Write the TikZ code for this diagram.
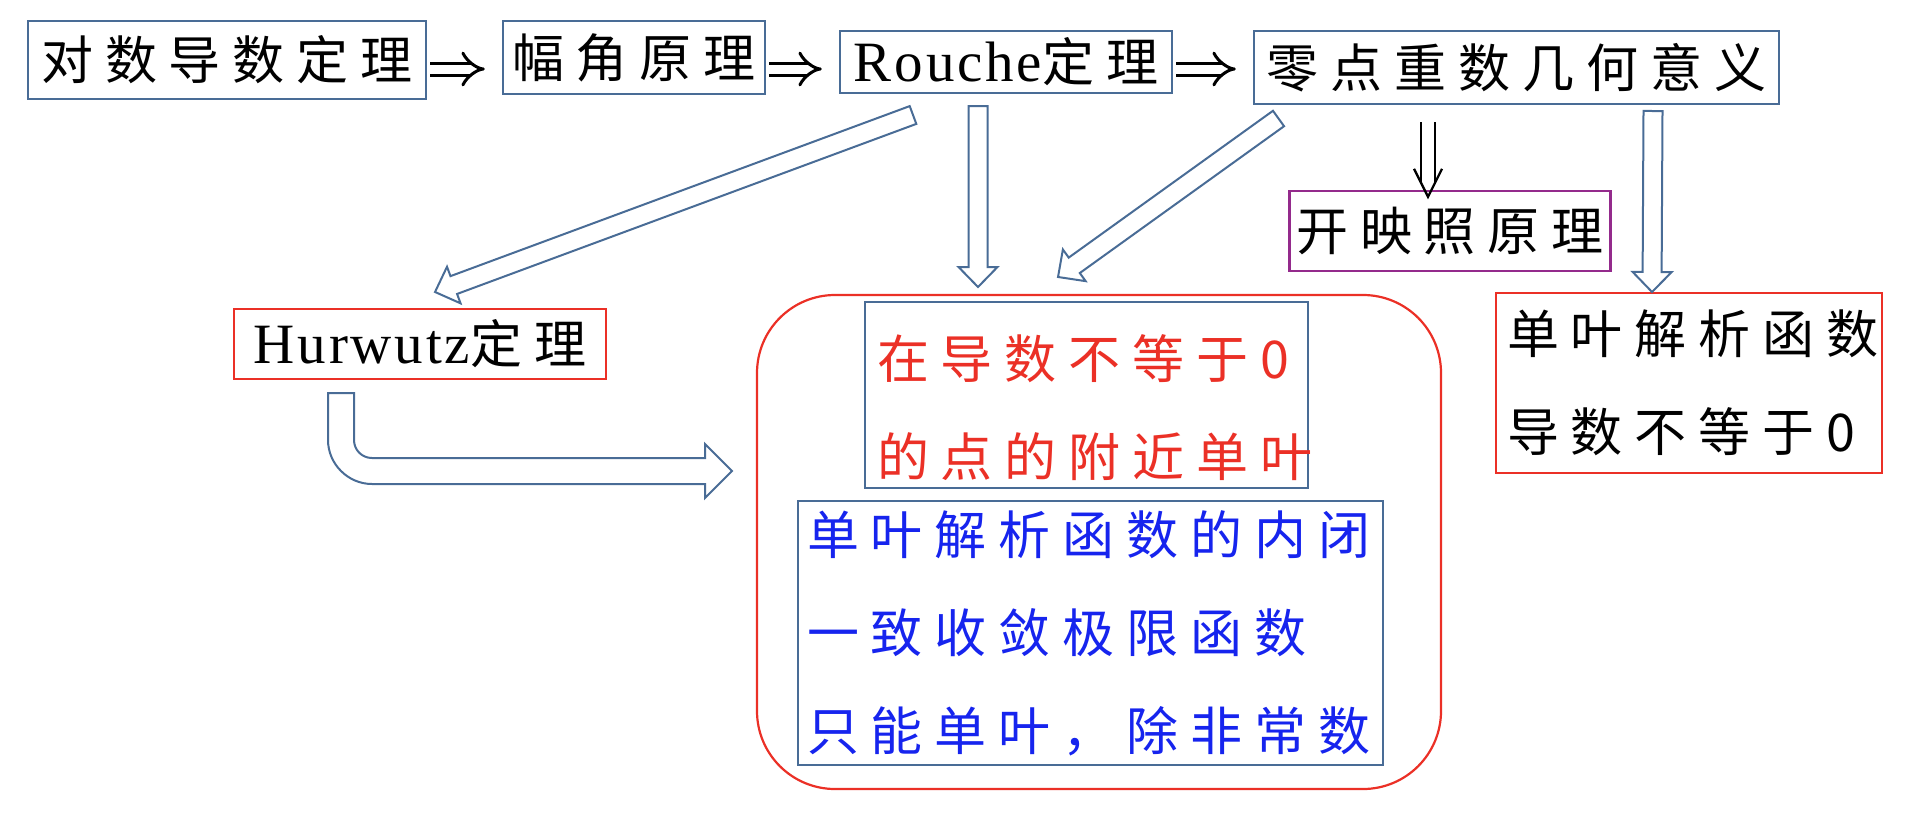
\documentclass[tikz,border=0pt]{standalone}
\usepackage{fontspec}
\setmainfont{Liberation Serif}[LetterSpace=5]
\newfontfamily\cjk{Noto Sans CJK SC}[LetterSpace=23]
\usetikzlibrary{arrows.meta,calc}
\definecolor{edgeBlue}{RGB}{73,108,150}
\definecolor{boxRed}{RGB}{235,48,38}
\definecolor{textBlue}{RGB}{22,36,238}
\definecolor{boxPurple}{RGB}{148,42,140}
\newcommand\lat[1]{{\rmfamily\fontsize{57}{98}\selectfont #1}}

\begin{document}
\begin{tikzpicture}
[x=1pt, y=-1pt,%
  boxDecorate/.style={draw=edgeBlue, line width=2.4pt, inner sep=0pt,
    font=\cjk\fontsize{52}{98}\selectfont},%
  redDecorate/.style={boxDecorate, draw=boxRed},%
  listDecorate/.style={boxDecorate, align=left},%
  hollowDecorate/.style={draw=edgeBlue, line width=2pt, fill=white, line join=miter},%
  impliesDecorate/.style={double, double distance=9pt, line width=3pt, -{Implies}},%
  thinDecorate/.style={line width=2.3pt, line join=miter}]
\useasboundingbox (0,0) rectangle (1910,812);

%% frame round the consequences
\node (zone) at (1099,542) [draw=boxRed, line width=2.2pt, rounded corners=78pt,
  minimum width=684pt, minimum height=494pt] {};

%% boxes
\node (b1) at (227,60) [boxDecorate, minimum width=398pt, minimum height=78pt] {对数导数定理};
\node (b2) at (634,57.5) [boxDecorate, minimum width=262pt, minimum height=73pt] {幅角原理};
\node (b3) at (1006,62) [boxDecorate, minimum width=332pt, minimum height=62pt] {\lat{Rouche}定理};
\node (b4) at (1516.5,67.5) [boxDecorate, minimum width=525pt, minimum height=73pt] {零点重数几何意义};
\node (open) at (1450,231) [boxDecorate, draw=boxPurple, minimum width=321pt, minimum height=80pt] {开映照原理};
\node (hur) at (420,344) [redDecorate, minimum width=372pt, minimum height=70pt] {\lat{Hurwutz}定理};
\node (near) at (1086.5,395) [listDecorate, text=boxRed, text width=419pt, inner xsep=12pt,
  minimum height=186pt] {\rule{0pt}{70pt}在导数不等于0\\的点的附近单叶};
\node (limit) at (1090.5,633) [listDecorate, text=textBlue, text width=567pt, inner xsep=9pt,
  minimum height=264pt] {单叶解析函数的内闭\\一致收敛极限函数\\只能单叶，除非常数};
\node (uni) at (1689,383) [listDecorate, draw=boxRed, text width=364pt, inner xsep=11pt,
  minimum height=180pt] {单叶解析函数\\导数不等于0};

%% implications
\coordinate (row) at (0,69);
\foreach \startnode/\endnode in {b1/b2, b2/b3, b3/b4}
{
  \draw[impliesDecorate, shorten <=3pt, shorten >=17pt] (\startnode.east |- row) -- (\endnode.west |- row);
}
\coordinate (down) at (1428,0);
\draw[thinDecorate, double, double distance=11.7pt, shorten <=17pt, shorten >=7pt]
  (b4.south -| down) -- (open.north -| down);
\draw[thinDecorate] ($(open.north -| down)+(-14,-21)$) -- ($(open.north -| down)+(0,7)$)
  -- ($(open.north -| down)+(14,-21)$);

%% hollow arrows
\foreach \name/\x/\y in {r1/913/115, h1/435/292, r2/978/106, o1/978/287,
  z1/1278.5/118.5, o2/1058/277, z2/1653/111, d1/1652/292}
{
  \coordinate (\name) at (\x,\y);
}
\foreach \startnode/\endnode in {r1/h1, r2/o1, z1/o2, z2/d1}
{
  \draw[hollowDecorate] let \p1=(\startnode), \p2=(\endnode),
    \n1={atan2(\y2-\y1,\x2-\x1)}, \n2={veclen(\x2-\x1,\y2-\y1)} in
    [shift={(\p1)}, rotate=\n1] (0,9.5) -- (\n2-20,9.5) -- (\n2-20,19.5) -- (\n2,0)
    -- (\n2-20,-19.5) -- (\n2-20,-9.5) -- (0,-9.5) -- cycle;
}
\draw[hollowDecorate] (328,393) -- (354,393) -- (354,440) .. controls (354,450) and (362,458) .. (372,458)
  -- (705,458) -- (705,444) -- (732,471) -- (705,498) -- (705,484) -- (372,484)
  .. controls (348,484) and (328,464) .. (328,440) -- cycle;
\end{tikzpicture}
\end{document}
